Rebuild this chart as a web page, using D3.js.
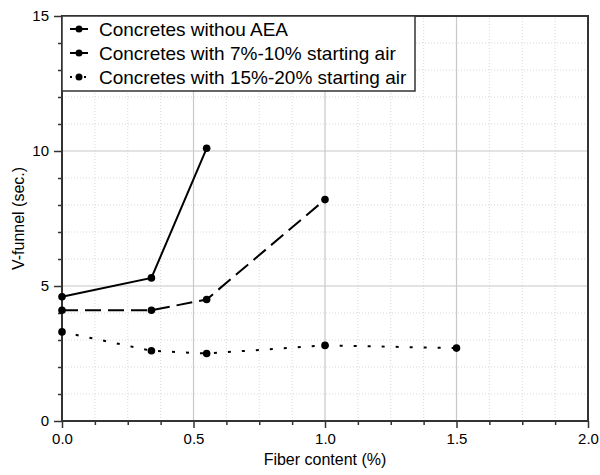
<!DOCTYPE html>
<html>
<head>
<meta charset="utf-8">
<script src="https://cdn.jsdelivr.net/npm/d3@7"></script>
<style>
  body { margin: 0; background: #fff; }
  svg text { font-family: "Liberation Sans", Arial, sans-serif; fill: #000; }
</style>
</head>
<body>
<div id="chart"></div>
<script>
// series
var fiberA = [0, 0.34, 0.55];
var vfunnelA = [4.6, 5.3, 10.1];
var fiberB = [0, 0.34, 0.55, 1.0];
var vfunnelB = [4.1, 4.1, 4.5, 8.2];
var fiberC = [0, 0.34, 0.55, 1.0, 1.5];
var vfunnelC = [3.3, 2.6, 2.5, 2.8, 2.7];

var seriesNames = [
  'Concretes withou AEA',
  'Concretes with 7%-10% starting air',
  'Concretes with 15%-20% starting air'
];
var xTicks = [0, 0.5, 1.0, 1.5, 2.0];
var yTicks = [0, 5, 10, 15];
var xTitle = 'Fiber content (%)';
var yTitle = 'V-funnel (sec.)';

var width = 600, height = 475;
var margin = {left: 62, right: 12, top: 16, bottom: 54};
var frameColor = '#333';

var svg = d3.select('#chart').append('svg')
  .attr('width', width)
  .attr('height', height);

var x = d3.scaleLinear().domain([0, 2]).range([margin.left, width - margin.right]);
var y = d3.scaleLinear().domain([0, 15]).range([height - margin.bottom, margin.top]);

var xMinor = d3.range(0, 2.0001, 0.125).filter(function(v){ return Math.abs(v * 2 - Math.round(v * 2)) > 1e-6; });
var yMinor = d3.range(0, 15.0001, 1).filter(function(v){ return v % 5 !== 0; });

// grid lines, minor dotted then major solid
var grid = svg.append('g');
grid.selectAll('.gx').data(xMinor).enter().append('line')
  .attr('x1', function(d){ return x(d); }).attr('x2', function(d){ return x(d); })
  .attr('y1', y(0)).attr('y2', y(15))
  .attr('stroke', '#d8d8d8').attr('stroke-width', 1).attr('stroke-dasharray', '1,2');
grid.selectAll('.gy').data(yMinor).enter().append('line')
  .attr('x1', x(0)).attr('x2', x(2))
  .attr('y1', function(d){ return y(d); }).attr('y2', function(d){ return y(d); })
  .attr('stroke', '#d8d8d8').attr('stroke-width', 1).attr('stroke-dasharray', '1,2');
grid.selectAll('.Gx').data(xTicks.slice(1, -1)).enter().append('line')
  .attr('x1', function(d){ return x(d); }).attr('x2', function(d){ return x(d); })
  .attr('y1', y(0)).attr('y2', y(15))
  .attr('stroke', '#c8c8c8').attr('stroke-width', 1.2);
grid.selectAll('.Gy').data(yTicks.slice(1, -1)).enter().append('line')
  .attr('x1', x(0)).attr('x2', x(2))
  .attr('y1', function(d){ return y(d); }).attr('y2', function(d){ return y(d); })
  .attr('stroke', '#c8c8c8').attr('stroke-width', 1.2);

// axes with major and minor ticks
svg.append('g')
  .attr('transform', 'translate(0,' + y(0) + ')')
  .call(d3.axisBottom(x).tickValues(xTicks).tickFormat(d3.format('.1f')).tickSizeOuter(0).tickSize(7).tickPadding(5));
svg.append('g')
  .attr('transform', 'translate(0,' + y(0) + ')')
  .call(d3.axisBottom(x).tickValues(xMinor).tickFormat('').tickSizeOuter(0).tickSize(4));
svg.append('g')
  .attr('transform', 'translate(' + x(0) + ',0)')
  .call(d3.axisLeft(y).tickValues(yTicks).tickSizeOuter(0).tickSize(8).tickPadding(5));
svg.append('g')
  .attr('transform', 'translate(' + x(0) + ',0)')
  .call(d3.axisLeft(y).tickValues(yMinor).tickFormat('').tickSizeOuter(0).tickSize(4));

svg.selectAll('.domain').remove();
svg.selectAll('.tick line').attr('stroke', frameColor).attr('stroke-width', 1.5);
svg.selectAll('.tick text').attr('font-size', 15).attr('fill', '#000');

// frame box
svg.append('rect')
  .attr('x', x(0)).attr('y', y(15))
  .attr('width', x(2) - x(0)).attr('height', y(0) - y(15))
  .attr('fill', 'none').attr('stroke', frameColor).attr('stroke-width', 2);

// axis titles
svg.append('text')
  .attr('x', (x(0) + x(2)) / 2).attr('y', height - 10)
  .attr('text-anchor', 'middle').attr('font-size', 16)
  .text(xTitle);
svg.append('text')
  .attr('transform', 'translate(24,' + ((y(0) + y(15)) / 2) + ') rotate(-90)')
  .attr('text-anchor', 'middle').attr('font-size', 16)
  .text(yTitle);

// lines and markers
var series = [
  {xs: fiberA, ys: vfunnelA, dash: null},
  {xs: fiberB, ys: vfunnelB, dash: '16,7'},
  {xs: fiberC, ys: vfunnelC, dash: '3,11'}
];
var line = d3.line().x(function(d){ return x(d[0]); }).y(function(d){ return y(d[1]); });

series.forEach(function(s) {
  var pts = d3.zip(s.xs, s.ys);
  svg.append('path')
    .attr('d', line(pts))
    .attr('fill', 'none')
    .attr('stroke', '#000')
    .attr('stroke-width', 2)
    .attr('stroke-dasharray', s.dash);
  svg.selectAll(null).data(pts).enter().append('circle')
    .attr('cx', function(d){ return x(d[0]); })
    .attr('cy', function(d){ return y(d[1]); })
    .attr('r', 3.8)
    .attr('fill', '#000');
});

// legend
var legend = svg.append('g');
legend.append('rect')
  .attr('x', x(0)).attr('y', y(15))
  .attr('width', 353).attr('height', 75)
  .attr('fill', '#fff').attr('stroke', frameColor).attr('stroke-width', 1.5);
seriesNames.forEach(function(name, i) {
  var cy = y(15) + 13 + i * 24;
  legend.append('line')
    .attr('x1', x(0) + 8).attr('x2', x(0) + 26)
    .attr('y1', cy).attr('y2', cy)
    .attr('stroke', '#000').attr('stroke-width', 2)
    .attr('stroke-dasharray', i < 2 ? null : '2,5');
  legend.append('circle')
    .attr('cx', x(0) + 17).attr('cy', cy).attr('r', 3.5).attr('fill', '#000');
  legend.append('text')
    .attr('x', x(0) + 37).attr('y', cy)
    .attr('dy', '0.35em')
    .attr('font-size', 19)
    .text(name);
});
</script>
</body>
</html>
